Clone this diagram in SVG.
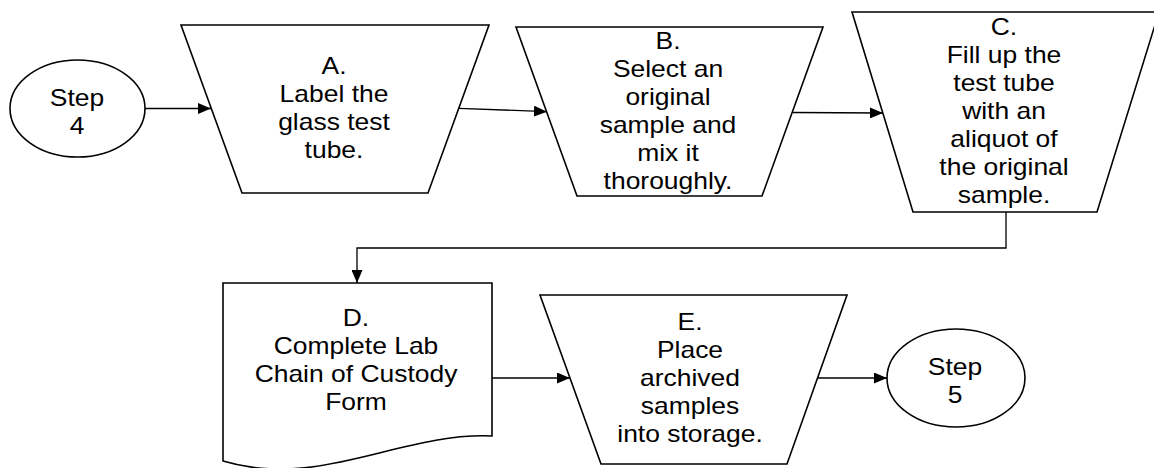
<svg xmlns="http://www.w3.org/2000/svg" width="1154" height="468" viewBox="0 0 1154 468">
<defs>
<marker id="arr" markerUnits="userSpaceOnUse" markerWidth="13" markerHeight="11" refX="13" refY="5.5" orient="auto">
<path d="M0,0 L13,5.5 L0,11 Z" fill="#000"/>
</marker>
<style>
.s{fill:#fff;stroke:#000;stroke-width:1.6;stroke-linejoin:miter}
.c{fill:none;stroke:#000;stroke-width:1.3;marker-end:url(#arr)}
.t{font-family:"Liberation Sans",Arial,sans-serif;font-size:23px;fill:#000;text-anchor:middle}
</style>
</defs>
<rect width="1154" height="468" fill="#fff"/>
<g id="connectors">
<path class="c" d="M145,108.5 L211,108.5"/>
<path class="c" d="M459,108.3 L547,111.7"/>
<path class="c" d="M793,112.5 L883,113"/>
<path class="c" d="M1006,212 V248 H357 V283"/>
<path class="c" d="M492,378 H570"/>
<path class="c" d="M817.5,378 H887"/>
</g>
<g id="step4">
<ellipse class="s" cx="77.5" cy="108.5" rx="67.5" ry="48.5"/>
<text class="t" transform="translate(77,0) scale(1.15,1)"><tspan x="0" y="106">Step</tspan><tspan x="0" y="134">4</tspan></text>
</g>
<g id="nodeA">
<polygon class="s" points="181,25 489,25 428,193 242,193"/>
<text class="t" transform="translate(334,0) scale(1.15,1)"><tspan x="0" y="74">A.</tspan><tspan x="0" y="102">Label the</tspan><tspan x="0" y="130">glass test</tspan><tspan x="0" y="158">tube.</tspan></text>
</g>
<g id="nodeB">
<polygon class="s" points="516,27 823,27 762,196 577,196"/>
<text class="t" transform="translate(668,0) scale(1.15,1)"><tspan x="0" y="49">B.</tspan><tspan x="0" y="77">Select an</tspan><tspan x="0" y="105">original</tspan><tspan x="0" y="133">sample and</tspan><tspan x="0" y="161">mix it</tspan><tspan x="0" y="189">thoroughly.</tspan></text>
</g>
<g id="nodeC">
<polygon class="s" points="852,12 1159,12 1097,212 913,212"/>
<text class="t" transform="translate(1004,0) scale(1.15,1)"><tspan x="0" y="35">C.</tspan><tspan x="0" y="63">Fill up the</tspan><tspan x="0" y="91">test tube</tspan><tspan x="0" y="119">with an</tspan><tspan x="0" y="147">aliquot of</tspan><tspan x="0" y="175">the original</tspan><tspan x="0" y="203">sample.</tspan></text>
</g>
<g id="nodeD">
<path class="s" d="M223,283 H492 V436 C400,432 320,490 223,461 Z"/>
<text class="t" transform="translate(356,0) scale(1.15,1)"><tspan x="0" y="326">D.</tspan><tspan x="0" y="354">Complete Lab</tspan><tspan x="0" y="382">Chain of Custody</tspan><tspan x="0" y="410">Form</tspan></text>
</g>
<g id="nodeE">
<polygon class="s" points="540,295 847,295 787,464 601,464"/>
<text class="t" transform="translate(690,0) scale(1.15,1)"><tspan x="0" y="330">E.</tspan><tspan x="0" y="358">Place</tspan><tspan x="0" y="386">archived</tspan><tspan x="0" y="414">samples</tspan><tspan x="0" y="442">into storage.</tspan></text>
</g>
<g id="step5">
<ellipse class="s" cx="956" cy="378" rx="69" ry="49"/>
<text class="t" transform="translate(955,0) scale(1.15,1)"><tspan x="0" y="375">Step</tspan><tspan x="0" y="403">5</tspan></text>
</g>
</svg>
